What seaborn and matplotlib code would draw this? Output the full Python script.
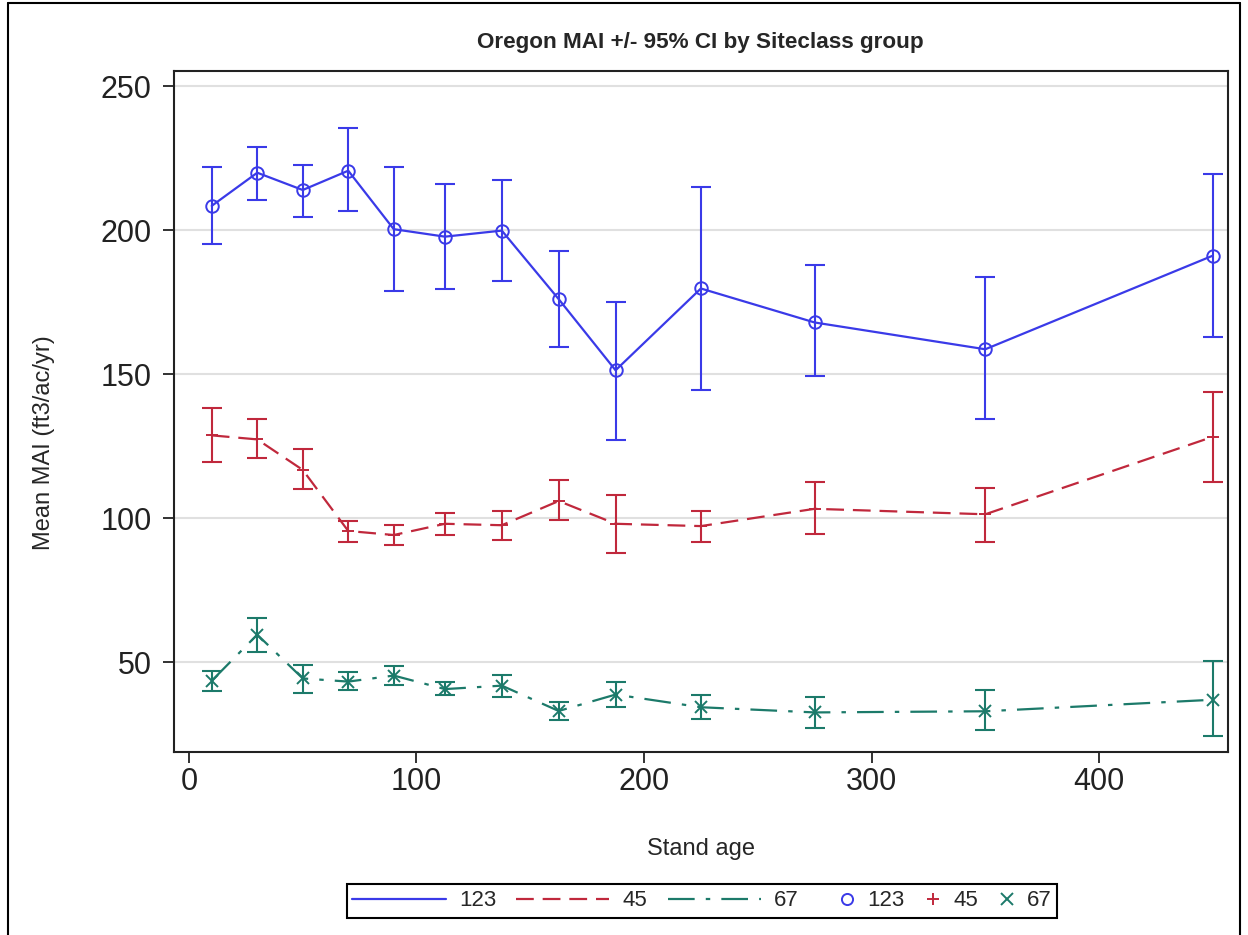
import numpy as np
import pandas as pd
import matplotlib
matplotlib.use("Agg")
import matplotlib.pyplot as plt
from matplotlib.lines import Line2D
from matplotlib.patches import Rectangle
import seaborn as sns

# stand age classes (midpoints)
age = [10, 30, 50, 70, 90, 112.5, 137.5, 162.5, 187.5, 225, 275, 350, 450]

# Siteclass 123
mai_123 = [208.4, 219.9, 213.9, 220.6, 200.3, 197.7, 199.8, 176.0, 151.3, 179.7, 167.9, 158.6, 191.1]
lo_123 = [195.1, 210.6, 204.5, 206.5, 178.8, 179.4, 182.3, 159.3, 127.0, 144.6, 149.3, 134.4, 162.8]
hi_123 = [222.0, 228.7, 222.7, 235.5, 222.0, 216.0, 217.4, 192.8, 174.9, 214.9, 187.7, 183.8, 219.6]

# Siteclass 45
mai_45 = [128.7, 127.3, 116.7, 95.5, 94.1, 98.0, 97.5, 105.9, 98.0, 97.2, 103.2, 101.3, 128.2]
lo_45 = [119.6, 120.8, 110.0, 91.8, 90.5, 94.0, 92.5, 99.2, 87.7, 91.7, 94.6, 91.7, 112.6]
hi_45 = [138.3, 134.3, 124.1, 99.0, 97.6, 101.6, 102.3, 113.3, 107.9, 102.5, 112.6, 110.5, 143.9]

# Siteclass 67
mai_67 = [43.5, 59.5, 44.3, 43.2, 45.3, 40.6, 41.8, 33.0, 38.7, 34.3, 32.5, 32.9, 36.9]
lo_67 = [39.8, 53.4, 39.2, 40.4, 42.0, 38.5, 37.7, 29.9, 34.3, 30.2, 27.0, 26.3, 24.3]
hi_67 = [47.0, 65.4, 49.1, 46.4, 48.5, 42.9, 45.6, 36.2, 43.2, 38.5, 37.7, 40.4, 50.5]

groups = ["123", "45", "67"]
colors = {"123": "#3A3AE8", "45": "#C0283C", "67": "#1C7A6A"}
markers = {"123": "o", "45": "+", "67": "x"}
lstyles = {"123": "-", "45": (0, (8, 4)), "67": (0, (12, 5, 2, 5))}

df = pd.concat([
    pd.DataFrame({"age": age, "mai": mai_123, "lo": lo_123, "hi": hi_123, "site": "123"}),
    pd.DataFrame({"age": age, "mai": mai_45, "lo": lo_45, "hi": hi_45, "site": "45"}),
    pd.DataFrame({"age": age, "mai": mai_67, "lo": lo_67, "hi": hi_67, "site": "67"}),
])

sns.set_style("white")
plt.rcParams["font.family"] = ["Liberation Sans", "DejaVu Sans"]

fig = plt.figure(figsize=(12.48, 9.35), dpi=100)
ax = fig.add_axes([0.1394, 0.1957, 0.8446, 0.7283])

for g in groups:
    d = df[df.site == g]
    sns.lineplot(data=d, x="age", y="mai", color=colors[g], linestyle=lstyles[g],
                 marker=markers[g], markersize=9, markerfacecolor="none",
                 markeredgecolor=colors[g], markeredgewidth=1.4, linewidth=1.6,
                 errorbar=None, ax=ax)
    ax.errorbar(d["age"], d["mai"], yerr=[d["mai"] - d["lo"], d["hi"] - d["mai"]],
                fmt="none", ecolor=colors[g], elinewidth=1.5, capsize=7.5, capthick=1.5)

ax.set_xlim(-6.6, 456.7)
ax.set_ylim(18.75, 255.2)
ax.set_xticks([0, 100, 200, 300, 400])
ax.set_yticks([50, 100, 150, 200, 250])
ax.yaxis.grid(True, color="#E0E0E0", linewidth=1.5)
ax.set_axisbelow(True)
for s in ax.spines.values():
    s.set_color("#222222")
    s.set_linewidth(1.5)
ax.tick_params(axis="both", direction="out", length=8, width=1.3, labelsize=22,
               colors="#222222", bottom=True, left=True)
ax.tick_params(axis="x", pad=3)
ax.tick_params(axis="y", pad=8)
ax.set_xlabel("Stand age", fontsize=17)
ax.set_ylabel("Mean MAI (ft3/ac/yr)", fontsize=17)
ax.xaxis.set_label_coords(0.5, -0.126)
ax.yaxis.set_label_coords(-0.113, 0.455)
fig.text(0.561, 0.955, "Oregon MAI +/- 95% CI by Siteclass group", ha="center",
         va="center", fontsize=16.2, fontweight="bold")

# legend: line entries and marker entries, one shared frame
line_h = [Line2D([], [], color=colors[g], linewidth=1.6, linestyle=lstyles[g]) for g in groups]
mark_h = [Line2D([], [], color=colors[g], linestyle="none", marker=markers[g],
                 markerfacecolor="none", markersize=8, markeredgewidth=1.4) for g in groups]
fig.legend(line_h, groups, ncol=3, loc="center left",
           bbox_to_anchor=(350 / 1248, 0.0364), fontsize=16, frameon=False,
           handlelength=4.2, handletextpad=0.6, columnspacing=0.9, borderpad=0.1,
           borderaxespad=0)
fig.legend(mark_h, groups, ncol=3, loc="center right",
           bbox_to_anchor=(1054 / 1248, 0.0364), fontsize=16, frameon=False,
           handlelength=0.8, handletextpad=0.5, columnspacing=0.9, borderpad=0.1,
           borderaxespad=0)
fig.add_artist(Rectangle((347 / 1248, 1 - 918 / 935), 710 / 1248, 34 / 935, fill=False,
                         edgecolor="black", linewidth=1.5, transform=fig.transFigure))

# outer frame around the graph
fig.add_artist(Line2D([8 / 1248, 8 / 1248], [0, 1 - 3 / 935], color="black", linewidth=1.5, transform=fig.transFigure))
fig.add_artist(Line2D([8 / 1248, 1240 / 1248], [1 - 3 / 935, 1 - 3 / 935], color="black", linewidth=1.5, transform=fig.transFigure))
fig.add_artist(Line2D([1240 / 1248, 1240 / 1248], [0, 1 - 3 / 935], color="black", linewidth=1.5, transform=fig.transFigure))

fig.savefig("out.png", dpi=100)
